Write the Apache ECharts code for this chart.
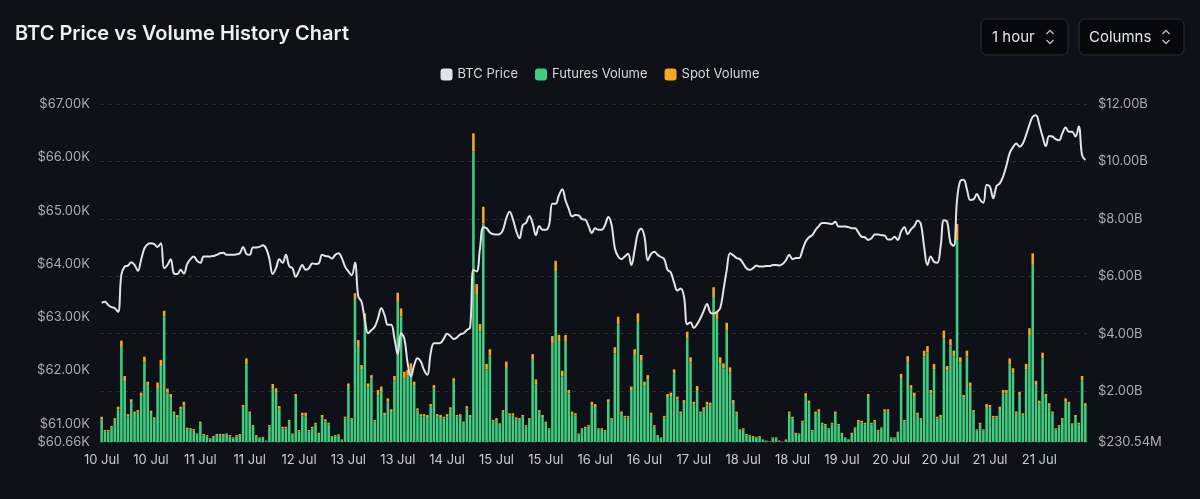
<!DOCTYPE html>
<html><head><meta charset="utf-8">
<script src="https://cdn.jsdelivr.net/npm/echarts@6/dist/echarts.min.js"></script>
<style>html,body{margin:0;padding:0;background:#0e1117;}#c{width:1200px;height:499px;}</style>
</head><body><div id="c"></div>
<script>
// hourly buckets starting 10 Jul
const startTime = Date.UTC(2024, 6, 10, 0, 0);
const bucketCount = 300;
const categories = [];
for (let i = 0; i < bucketCount; i++) categories.push(startTime + i * 3600000);
const monthNames = ['Jan','Feb','Mar','Apr','May','Jun','Jul','Aug','Sep','Oct','Nov','Dec'];

// BTC price, thousands of USD
const btcPrice = [
63.27,63.29,63.23,63.19,63.17,63.10,63.80,63.95,63.97,64.03,
63.98,63.87,64.08,64.29,64.37,64.39,64.37,64.32,64.39,63.92,
63.98,64.09,63.82,63.81,63.89,63.82,64.00,64.09,64.14,64.06,
64.02,64.14,64.14,64.14,64.15,64.17,64.20,64.21,64.17,64.17,
64.17,64.18,64.20,64.32,64.19,64.17,64.31,64.31,64.32,64.35,
64.29,64.09,63.81,63.92,64.09,64.02,64.17,63.96,63.92,63.76,
63.87,63.98,63.89,63.92,64.01,64.00,64.01,64.17,64.15,64.14,
64.10,64.17,64.20,64.11,63.95,63.86,63.79,64.02,63.39,63.29,
62.95,62.70,62.76,62.82,62.98,63.17,63.04,62.86,62.86,62.60,
62.31,62.70,62.60,62.14,61.89,62.10,62.23,62.17,62.01,61.92,
62.32,62.51,62.51,62.52,62.60,62.69,62.65,62.59,62.62,62.68,
62.70,62.76,62.81,63.89,63.86,64.29,64.69,64.67,64.59,64.56,
64.55,64.56,64.64,64.86,64.98,64.84,64.62,64.48,64.73,64.77,
64.90,64.76,64.54,64.71,64.64,64.64,64.73,65.13,65.13,65.29,
65.40,65.19,65.03,64.89,64.92,64.91,64.84,64.83,64.71,64.58,
64.67,64.64,64.64,64.73,64.88,64.73,64.29,64.14,64.09,64.14,
64.19,63.98,64.26,64.58,64.66,64.51,64.07,64.19,64.23,64.17,
64.13,64.09,63.89,63.84,63.65,63.50,63.54,63.39,62.87,62.90,
62.80,62.87,62.98,63.12,63.25,63.09,63.07,63.10,63.17,63.51,
63.89,64.20,64.16,64.11,64.09,64.01,63.92,63.89,63.92,63.97,
63.95,63.95,63.96,63.96,63.98,63.98,63.97,64.00,64.07,64.17,
64.09,64.11,64.11,64.26,64.42,64.50,64.54,64.64,64.71,64.77,
64.77,64.76,64.75,64.79,64.70,64.70,64.70,64.69,64.67,64.67,
64.59,64.51,64.50,64.45,64.48,64.55,64.55,64.54,64.53,64.46,
64.46,64.51,64.45,64.61,64.69,64.56,64.65,64.71,64.81,64.75,
64.32,63.98,64.14,64.04,64.02,64.32,64.82,64.79,64.40,64.34,
65.20,65.56,65.58,65.40,65.20,65.21,65.31,65.20,65.15,65.48,
65.45,65.23,65.46,65.51,65.64,65.84,66.08,66.19,66.26,66.20,
66.26,66.42,66.61,66.76,66.79,66.61,66.39,66.21,66.40,66.39,
66.34,66.32,66.45,66.56,66.48,66.48,66.39,66.58,66.04,65.95];

// futures volume, billions of USD
const futuresVolume = [
1.02,0.59,0.60,0.73,0.98,1.36,3.54,2.35,1.12,1.62,
1.21,1.25,1.83,3.00,2.19,1.24,1.02,2.08,2.87,4.60,
1.95,1.78,1.23,1.10,1.36,1.51,0.68,0.66,0.63,0.49,
0.89,0.47,0.43,0.33,0.40,0.47,0.47,0.47,0.49,0.43,
0.36,0.43,0.47,1.44,2.94,1.22,0.76,0.43,0.36,0.38,
0.26,0.77,2.11,1.94,1.39,0.70,0.70,0.94,0.49,1.80,
0.60,1.15,1.13,0.60,0.71,0.84,0.51,1.10,0.95,0.84,
0.41,0.43,0.46,0.29,1.05,2.15,1.00,5.21,3.54,2.77,
4.59,2.13,2.44,0.94,1.86,2.00,1.17,1.63,1.27,2.37,
5.11,4.60,2.44,2.54,2.73,2.21,1.33,1.13,1.13,1.10,
1.47,2.09,1.13,1.10,1.05,1.13,1.36,2.33,1.11,1.14,
0.89,1.39,1.10,10.34,5.35,4.08,7.84,2.75,3.24,0.94,
1.00,0.83,1.27,2.81,1.16,1.16,1.02,1.00,1.11,0.77,
1.00,3.09,2.23,1.26,1.10,0.89,0.67,3.66,6.16,3.72,
2.51,3.72,1.92,1.21,1.16,0.49,0.66,0.71,0.77,1.51,
1.45,0.66,0.66,0.61,1.62,1.00,3.31,4.33,1.21,1.08,
1.08,2.04,3.26,4.41,3.06,2.19,2.40,1.18,0.77,0.44,
0.36,1.08,1.80,1.83,2.62,1.71,1.22,1.59,3.83,3.00,
1.53,2.04,1.22,1.36,1.53,1.50,5.28,4.49,2.98,2.79,
4.12,2.65,1.59,1.22,0.62,0.66,0.47,0.43,0.41,0.38,
0.41,0.30,0.26,0.23,0.36,0.36,0.26,0.22,0.30,1.22,
1.04,0.51,0.49,0.91,1.83,1.57,0.61,1.21,1.29,0.85,
0.81,0.67,0.85,1.21,0.81,0.51,0.36,0.30,0.51,0.69,
0.93,0.91,0.85,1.80,0.85,0.94,0.61,0.70,1.29,1.29,
0.36,0.36,0.55,2.46,0.94,3.02,2.09,1.83,1.18,1.00,
3.21,3.35,1.92,2.77,1.05,1.10,3.85,2.72,3.59,3.21,
7.26,3.00,1.77,3.21,2.16,1.26,0.63,0.85,0.63,1.45,
1.44,1.08,1.08,1.38,1.92,1.92,2.94,2.62,1.22,1.86,
1.16,2.77,3.93,6.40,2.22,1.57,3.14,1.80,1.49,1.22,
0.67,0.77,0.99,1.63,1.53,0.83,1.10,0.85,2.37,1.48];

// spot volume, billions of USD
const spotVolume = [
0.09,0.06,0.05,0.06,0.08,0.10,0.22,0.18,0.08,0.10,
0.08,0.09,0.12,0.20,0.14,0.08,0.07,0.22,0.22,0.20,
0.14,0.12,0.06,0.07,0.10,0.12,0.05,0.05,0.05,0.04,
0.05,0.04,0.04,0.03,0.04,0.04,0.04,0.04,0.04,0.04,
0.03,0.04,0.04,0.08,0.20,0.07,0.06,0.04,0.03,0.03,
0.02,0.05,0.14,0.16,0.09,0.06,0.06,0.06,0.04,0.10,
0.05,0.10,0.12,0.05,0.05,0.06,0.04,0.07,0.07,0.06,
0.03,0.04,0.04,0.03,0.06,0.12,0.06,0.20,0.24,0.14,
0.12,0.14,0.12,0.06,0.18,0.16,0.08,0.12,0.10,0.16,
0.32,0.28,0.24,0.20,0.24,0.12,0.07,0.07,0.07,0.07,
0.08,0.12,0.07,0.07,0.06,0.07,0.08,0.12,0.06,0.06,
0.05,0.09,0.07,0.64,0.38,0.26,0.58,0.20,0.22,0.06,
0.06,0.05,0.07,0.22,0.07,0.07,0.07,0.06,0.06,0.05,
0.06,0.20,0.18,0.08,0.07,0.05,0.04,0.26,0.38,0.24,
0.20,0.24,0.12,0.08,0.07,0.04,0.05,0.05,0.05,0.12,
0.10,0.05,0.05,0.04,0.10,0.06,0.22,0.26,0.08,0.06,
0.06,0.12,0.20,0.30,0.20,0.14,0.16,0.07,0.05,0.03,
0.03,0.06,0.10,0.12,0.14,0.10,0.07,0.10,0.24,0.18,
0.10,0.14,0.07,0.08,0.10,0.10,0.34,0.28,0.20,0.18,
0.26,0.18,0.10,0.07,0.05,0.05,0.04,0.04,0.03,0.03,
0.03,0.02,0.02,0.02,0.03,0.03,0.02,0.02,0.02,0.07,
0.07,0.04,0.04,0.06,0.10,0.10,0.04,0.08,0.08,0.05,
0.05,0.04,0.05,0.08,0.05,0.04,0.03,0.02,0.04,0.05,
0.07,0.06,0.05,0.10,0.05,0.06,0.04,0.04,0.08,0.08,
0.03,0.03,0.04,0.14,0.06,0.20,0.12,0.12,0.07,0.06,
0.20,0.22,0.12,0.18,0.06,0.07,0.26,0.16,0.22,0.20,
0.56,0.18,0.10,0.20,0.14,0.08,0.04,0.05,0.04,0.10,
0.08,0.06,0.06,0.08,0.12,0.12,0.20,0.18,0.07,0.12,
0.07,0.18,0.26,0.40,0.14,0.10,0.20,0.10,0.09,0.07,
0.04,0.05,0.07,0.12,0.10,0.05,0.07,0.05,0.16,0.10];

const priceMin = 60.66, priceMax = 67;       // K USD
const volumeMin = 0.23054, volumeMax = 12;   // B USD

const fontFam = 'Inter, "Noto Sans", sans-serif';
const chart = echarts.init(document.getElementById('c'), null, {renderer: 'canvas'});

function chevron(cx, cy) {
  return [
    {type:'polyline', shape:{points:[[cx-3.5,cy-3],[cx,cy-6.5],[cx+3.5,cy-3]]}, style:{stroke:'#bfc3c9', lineWidth:1.3, fill:null}},
    {type:'polyline', shape:{points:[[cx-3.5,cy+3],[cx,cy+6.5],[cx+3.5,cy+3]]}, style:{stroke:'#bfc3c9', lineWidth:1.3, fill:null}}
  ];
}

chart.setOption({
  backgroundColor: '#0e1117',
  animation: false,
  textStyle: {fontFamily: fontFam},
  title: {
    text: 'BTC Price vs Volume History Chart',
    left: 10, top: 19,
    textStyle: {color: '#eef0f3', fontSize: 20, fontWeight: 600, fontFamily: fontFam}
  },
  legend: {
    top: 63, left: 'center',
    icon: 'roundRect', itemWidth: 12, itemHeight: 12, itemGap: 17,
    textStyle: {color: '#d5d8dd', fontSize: 13, fontFamily: fontFam},
    data: ['BTC Price', 'Futures Volume', 'Spot Volume']
  },
  graphic: [
    {type:'rect', shape:{x:981, y:19, width:87, height:36, r:6}, style:{fill:'#06080b', stroke:'#2a2e35', lineWidth:1}},
    {type:'text', x:992, y:37, style:{text:'1 hour', fill:'#e4e6ea', fontSize:15, fontFamily:fontFam, verticalAlign:'middle'}},
    ...chevron(1050, 37),
    {type:'rect', shape:{x:1079, y:19, width:105, height:36, r:6}, style:{fill:'#06080b', stroke:'#2a2e35', lineWidth:1}},
    {type:'text', x:1089, y:37, style:{text:'Columns', fill:'#e4e6ea', fontSize:15, fontFamily:fontFam, verticalAlign:'middle'}},
    ...chevron(1166, 37)
  ],
  grid: {left: 100, right: 113, top: 104, bottom: 57, containLabel: false},
  xAxis: {
    type: 'category',
    data: categories,
    boundaryGap: true,
    axisLine: {show: false},
    axisTick: {show: false},
    axisLabel: {
      interval: 14, color: '#c9ccd1', fontSize: 13, margin: 12, fontFamily: fontFam,
      formatter: v => { const d = new Date(+v); return d.getUTCDate() + ' ' + monthNames[d.getUTCMonth()]; }
    },
    splitLine: {show: false}
  },
  yAxis: [
    {
      type: 'value', position: 'left', min: priceMin, max: priceMax, scale: true,
      axisLine: {show: false}, axisTick: {show: false},
      splitLine: {show: false},
      axisLabel: {color: '#a8acb3', fontSize: 13, margin: 10, fontFamily: fontFam,
        showMinLabel: true, showMaxLabel: true,
        formatter: v => '$' + v.toFixed(2) + 'K'}
    },
    {
      type: 'value', position: 'right', min: volumeMin, max: volumeMax,
      axisLine: {show: false}, axisTick: {show: false},
      splitLine: {show: true, lineStyle: {color: '#2a2e36', type: [4, 4], width: 1}},
      axisLabel: {color: '#a8acb3', fontSize: 13, margin: 11, fontFamily: fontFam,
        showMinLabel: true, showMaxLabel: true,
        formatter: v => v < 1 ? '$' + (v * 1000).toFixed(2) + 'M' : '$' + v.toFixed(2) + 'B'}
    }
  ],
  series: [
    {
      name: 'BTC Price', type: 'line', yAxisIndex: 0, data: btcPrice,
      smooth: 0.4, showSymbol: false, z: 5,
      itemStyle: {color: '#e2e4e8'},
      lineStyle: {color: '#e2e4e8', width: 2}
    },
    {
      name: 'Futures Volume', type: 'bar', yAxisIndex: 1, stack: 'vol', data: futuresVolume,
      barCategoryGap: '22%',
      itemStyle: {color: '#40cd80'}
    },
    {
      name: 'Spot Volume', type: 'bar', yAxisIndex: 1, stack: 'vol', data: spotVolume,
      barCategoryGap: '22%',
      itemStyle: {color: '#f5a623'}
    }
  ]
});
</script>
</body></html>
